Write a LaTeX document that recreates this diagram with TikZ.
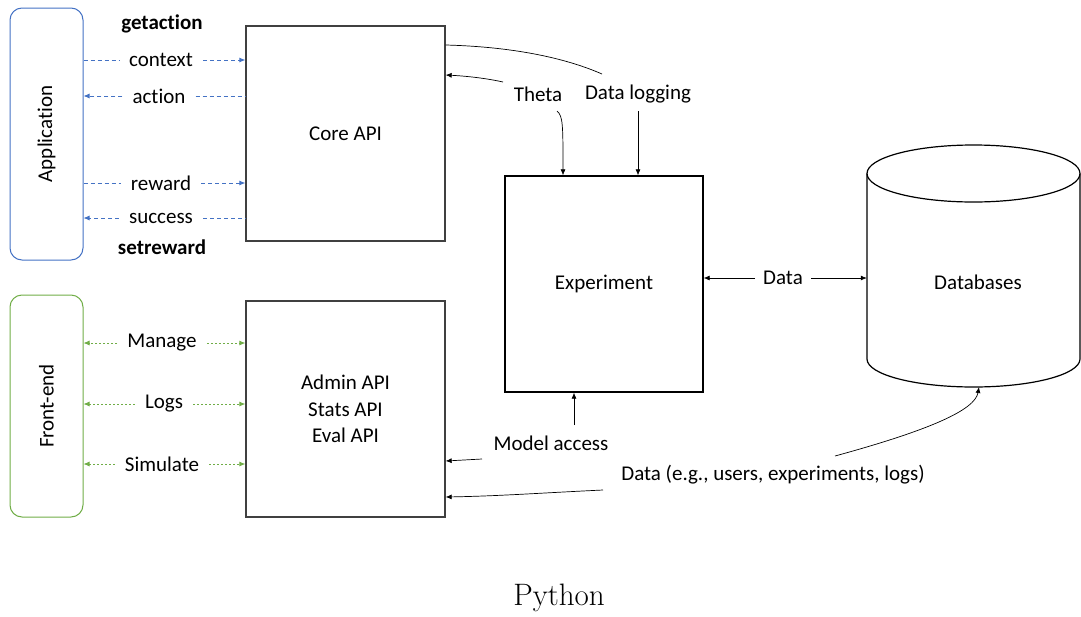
\documentclass[tikz,border=0pt]{standalone}
\usepackage{fontspec}
\newfontfamily\calib[Ligatures={NoCommon,NoContextual,NoRare,NoHistoric}]{Carlito}
\usetikzlibrary{arrows.meta}
\definecolor{appblue}{HTML}{4472C4}
\definecolor{fegreen}{HTML}{70AD47}
\definecolor{boxgray}{HTML}{404040}
\begin{document}
\begin{tikzpicture}[x=1pt,y=-1pt,
  box/.style={draw=#1, line width=1.3pt, minimum width=199pt, minimum height=216pt, inner sep=0pt, font=\calib\fontsize{21}{26.5}\selectfont, align=center},
  side/.style={draw=#1, rounded corners=12pt, line width=1pt, minimum width=73pt, inner sep=0pt},
  lbl/.style={font=\calib\fontsize{21}{25}\selectfont, inner sep=0pt},
  blbl/.style={lbl, inner xsep=10pt},
  bdash/.style={draw=appblue, dash pattern=on 4pt off 3pt, line width=0.8pt},
  gdot/.style={draw=fegreen, dash pattern=on 2pt off 2pt, line width=0.8pt},
  tip/.style={-{Latex[length=6pt,width=5pt]}},
  conn/.style={draw=black, line width=0.7pt},
]
\useasboundingbox (0,0) rectangle (1081,616);

% left boxes
\node[side=appblue, minimum height=252pt] (app) at (46.5,134) {};
\node[lbl, rotate=90] (apptxt) at (app) {Application};
\node[side=fegreen, minimum height=222pt] (fe) at (46.5,406) {};
\node[lbl, rotate=90] (fetxt) at (fe) {Front-end};

% main boxes
\node[box=boxgray, minimum height=215pt] (core) at (345.5,133.5) {Core API};
\node[box=boxgray] (admin) at (345.5,409) {Admin API\\Stats API\\Eval API};
\node[box=black, minimum width=198pt] (exp) at (604,284) {Experiment};

% database cylinder
\draw[line width=1.2pt] (973.5,173.5) ellipse [x radius=106.5pt, y radius=28.5pt];
\draw[line width=1.2pt] (867,173.5) -- (867,359) arc[start angle=180, end angle=360, x radius=106.5pt, y radius=28pt] -- (1080,173.5);
\node[minimum width=213pt, minimum height=186pt, inner sep=0pt] (db) at (973.5,266) {};
\node[lbl] (dbtxt) at (978,282) {Databases};
\coordinate (dbbot) at (979,387);

% getaction / setreward
\node[lbl, font=\calib\bfseries\fontsize{21}{25}\selectfont] (get) at (162,24) {getac\kern0pt tion};
\node[lbl, font=\calib\bfseries\fontsize{21}{25}\selectfont] (set) at (162,247) {setreward};

% blue connectors
\node[blbl] (ctx) at (161,60) {context};
\draw[bdash] (app.east |- ctx) -- (ctx.west);
\draw[bdash, tip] (ctx.east) -- (core.west |- ctx);
\node[blbl] (act) at (159,96) {ac\kern0pt tion};
\draw[bdash, tip] (act.west) -- (app.east |- act);
\draw[bdash] (act.east) -- (core.west |- act);
\node[blbl] (rew) at (161,183) {reward};
\draw[bdash] (app.east |- rew) -- (rew.west);
\draw[bdash, tip] (rew.east) -- (core.west |- rew);
\node[blbl] (suc) at (161,218) {success};
\draw[bdash, tip] (suc.west) -- (app.east |- suc);
\draw[bdash] (suc.east) -- (core.west |- suc);

% green connectors
\node[blbl] (man) at (162,343) {Manage};
\draw[gdot, tip] (man.west) -- (fe.east |- man);
\draw[gdot, tip] (man.east) -- (admin.west |- man);
\node[blbl] (logs) at (164,404) {Logs};
\draw[gdot, tip] (logs.west) -- (fe.east |- logs);
\draw[gdot, tip] (logs.east) -- (admin.west |- logs);
\node[blbl] (sim) at (162,464) {Simulate};
\draw[gdot, tip] (sim.west) -- (fe.east |- sim);
\draw[gdot, tip] (sim.east) -- (admin.west |- sim);

% Theta / Data logging
\node[lbl] (theta) at (538,94) {Theta};
\node[lbl] (dlog) at (638,94) {Data logging};
\coordinate (y45) at (0,45);
\coordinate (y75) at (0,75);
\coordinate (dlin) at (602,74);
\draw[conn] (core.east |- y45) .. controls (520,47) and (570,60) .. (dlin);
\coordinate (thout) at (503,82);
\draw[conn, tip] (thout) .. controls (485,78) and (465,76) .. (core.east |- y75);
\coordinate (thdown) at (557,111);
\coordinate (x563) at (563,0);
\draw[conn, tip] (thdown) .. controls (563,116) and (563,125) .. (exp.north -| x563);
\coordinate (dldown) at (638,111);
\draw[conn, tip] (dldown) -- (exp.north -| dldown);

% Data between experiment and databases
\node[lbl, inner xsep=8pt] (dlbl) at (783,278) {Data};
\draw[conn, tip] (dlbl.west) -- (exp.east |- dlbl);
\draw[conn, tip] (dlbl.east) -- (db.west |- dlbl);

% Model access
\node[lbl] (ma) at (551,443) {Model access};
\coordinate (maup) at (574,425);
\draw[conn, tip] (maup) -- (exp.south -| maup);
\coordinate (maleft) at (482,459);
\coordinate (y461) at (0,461);
\draw[conn, tip] (maleft) -- (admin.east |- y461);

% Data (e.g. ...)
\node[lbl] (deg) at (773,475) {Data (e.g., users, experiments, logs)};
\coordinate (degl) at (603,490);
\coordinate (y497) at (0,497);
\draw[conn, tip] (degl) .. controls (540,493) and (500,496) .. (admin.east |- y497);
\coordinate (degr) at (835,456);
\draw[conn, tip] (degr) .. controls (930,430) and (975,410) .. (dbbot);

% Python
\node[font=\fontsize{31}{36}\selectfont, inner sep=0pt] (py) at (559,598) {Python};
\end{tikzpicture}
\end{document}
